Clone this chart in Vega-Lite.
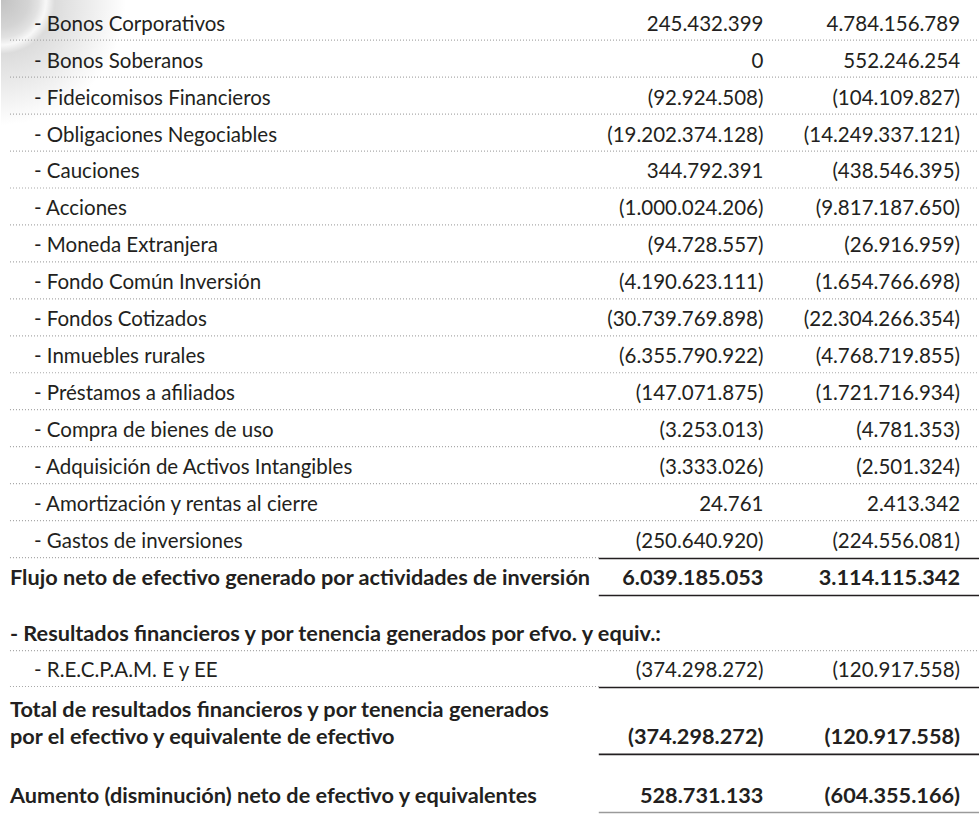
{
  "$schema": "https://vega.github.io/schema/vega-lite/v6.json",
  "width": 980,
  "height": 814,
  "autosize": {"type": "fit", "contains": "padding"},
  "padding": 0,
  "background": "white",
  "config": {
    "view": {"stroke": null},
    "locale": {"number": {"decimal": ",", "thousands": ".", "grouping": [3], "currency": ["$", ""]}},
    "text": {"font": "Lato", "fontSize": 20.5, "color": "#231f20", "baseline": "alphabetic"}
  },
  "data": {
    "values": [
      {"r": 0, "label": "- Bonos Corporativos", "level": 1, "a": 245432399, "b": 4784156789, "sep": "dots"},
      {"r": 1, "label": "- Bonos Soberanos", "level": 1, "a": 0, "b": 552246254, "sep": "dots"},
      {"r": 2, "label": "- Fideicomisos Financieros", "level": 1, "a": -92924508, "b": -104109827, "sep": "dots"},
      {"r": 3, "label": "- Obligaciones Negociables", "level": 1, "a": -19202374128, "b": -14249337121, "sep": "dots"},
      {"r": 4, "label": "- Cauciones", "level": 1, "a": 344792391, "b": -438546395, "sep": "dots"},
      {"r": 5, "label": "- Acciones", "level": 1, "a": -1000024206, "b": -9817187650, "sep": "dots"},
      {"r": 6, "label": "- Moneda Extranjera", "level": 1, "a": -94728557, "b": -26916959, "sep": "dots"},
      {"r": 7, "label": "- Fondo Común Inversión", "level": 1, "a": -4190623111, "b": -1654766698, "sep": "dots"},
      {"r": 8, "label": "- Fondos Cotizados", "level": 1, "a": -30739769898, "b": -22304266354, "sep": "dots"},
      {"r": 9, "label": "- Inmuebles rurales", "level": 1, "a": -6355790922, "b": -4768719855, "sep": "dots"},
      {"r": 10, "label": "- Préstamos a afiliados", "level": 1, "a": -147071875, "b": -1721716934, "sep": "dots"},
      {"r": 11, "label": "- Compra de bienes de uso", "level": 1, "a": -3253013, "b": -4781353, "sep": "dots"},
      {"r": 12, "label": "- Adquisición de Activos Intangibles", "level": 1, "a": -3333026, "b": -2501324, "sep": "dots"},
      {"r": 13, "label": "- Amortización y rentas al cierre", "level": 1, "a": 24761, "b": 2413342, "sep": "dots"},
      {"r": 14, "label": "- Gastos de inversiones", "level": 1, "a": -250640920, "b": -224556081, "sep": "sub"},
      {"r": 15, "label": "Flujo neto de efectivo generado por actividades de inversión", "level": 0, "a": 6039185053, "b": 3114115342, "sep": "total"},
      {"r": 16.52, "label": "- Resultados financieros y por tenencia generados por efvo. y equiv.:", "level": 0, "sep": "dots"},
      {"r": 17.49, "label": "- R.E.C.P.A.M. E y EE", "level": 1, "a": -374298272, "b": -120917558, "sep": "sub"},
      {"r": 18.58, "label": "Total de resultados financieros y por tenencia generados", "level": 0, "sep": "none"},
      {"r": 19.3, "label": "por el efectivo y equivalente de efectivo", "level": 0, "a": -374298272, "b": -120917558, "sep": "total"},
      {"r": 20.9, "label": "Aumento (disminución) neto de efectivo y equivalentes", "level": 0, "a": 528731133, "b": -604355166, "sep": "final"}
    ]
  },
  "encoding": {
    "y": {"field": "r", "type": "quantitative", "scale": {"domain": [-0.8297, 21.17], "reverse": true, "nice": false, "zero": false}, "axis": null}
  },
  "layer": [
    {
      "data": {"values": [{"r": -0.8297}]},
      "mark": {
        "type": "arc",
        "theta": 1.5708,
        "theta2": 3.1416,
        "radius": 125,
        "radius2": 0,
        "fill": {
          "gradient": "radial",
          "x1": 0, "y1": 0, "r1": 0,
          "x2": 0, "y2": 0, "r2": 1,
          "stops": [
            {"offset": 0, "color": "#c2c2c2"},
            {"offset": 0.22, "color": "#d4d4d4"},
            {"offset": 0.3, "color": "#e2e2e2"},
            {"offset": 0.36, "color": "#f8f8f8"},
            {"offset": 0.43, "color": "#dcdcdc"},
            {"offset": 0.7, "color": "#ececec"},
            {"offset": 1, "color": "#ffffff"}
          ]
        }
      },
      "encoding": {
        "x": {"datum": 0, "type": "quantitative", "scale": {"domain": [0, 980], "nice": false, "zero": false}, "axis": null}
      }
    },
    {
      "transform": [{"filter": "datum.sep === 'dots'"}],
      "mark": {"type": "rule", "stroke": "#a8a8a8", "strokeWidth": 1.2, "strokeDash": [1, 2], "yOffset": 9.5},
      "encoding": {
        "x": {"datum": 9, "type": "quantitative"},
        "x2": {"datum": 980}
      }
    },
    {
      "transform": [{"filter": "datum.sep === 'sub'"}],
      "mark": {"type": "rule", "stroke": "#a8a8a8", "strokeWidth": 1.2, "strokeDash": [1, 2], "yOffset": 9.5},
      "encoding": {
        "x": {"datum": 9, "type": "quantitative"},
        "x2": {"datum": 599}
      }
    },
    {
      "transform": [{"filter": "datum.sep === 'sub' || datum.sep === 'total'"}],
      "mark": {"type": "rule", "stroke": "#231f20", "strokeWidth": 1.6, "yOffset": 10.5},
      "encoding": {
        "x": {"datum": 599, "type": "quantitative"},
        "x2": {"datum": 980}
      }
    },
    {
      "transform": [{"filter": "datum.sep === 'final'"}],
      "mark": {"type": "rule", "stroke": "#9a9a9a", "strokeWidth": 1.6, "yOffset": 9.5},
      "encoding": {
        "x": {"datum": 599, "type": "quantitative"},
        "x2": {"datum": 980}
      }
    },
    {
      "transform": [{"filter": "datum.level === 1"}],
      "mark": {"type": "text", "align": "left"},
      "encoding": {
        "x": {"datum": 33, "type": "quantitative"},
        "text": {"field": "label"}
      }
    },
    {
      "transform": [{"filter": "datum.level === 0"}],
      "mark": {"type": "text", "align": "left", "fontWeight": "bold", "fontSize": 21.7},
      "encoding": {
        "x": {"datum": 9, "type": "quantitative"},
        "text": {"field": "label"}
      }
    },
    {
      "transform": [{"filter": "datum.level === 1"}],
      "mark": {"type": "text", "align": "right"},
      "encoding": {
        "x": {"datum": 764, "type": "quantitative"},
        "text": {"field": "a", "type": "quantitative", "format": "(,.0f"}
      }
    },
    {
      "transform": [{"filter": "datum.level === 1"}],
      "mark": {"type": "text", "align": "right"},
      "encoding": {
        "x": {"datum": 961, "type": "quantitative"},
        "text": {"field": "b", "type": "quantitative", "format": "(,.0f"}
      }
    },
    {
      "transform": [{"filter": "datum.level === 0 && isValid(datum.a)"}],
      "mark": {"type": "text", "align": "right", "fontWeight": "bold", "fontSize": 21.7},
      "encoding": {
        "x": {"datum": 764, "type": "quantitative"},
        "text": {"field": "a", "type": "quantitative", "format": "(,.0f"}
      }
    },
    {
      "transform": [{"filter": "datum.level === 0 && isValid(datum.b)"}],
      "mark": {"type": "text", "align": "right", "fontWeight": "bold", "fontSize": 21.7},
      "encoding": {
        "x": {"datum": 961, "type": "quantitative"},
        "text": {"field": "b", "type": "quantitative", "format": "(,.0f"}
      }
    }
  ]
}
